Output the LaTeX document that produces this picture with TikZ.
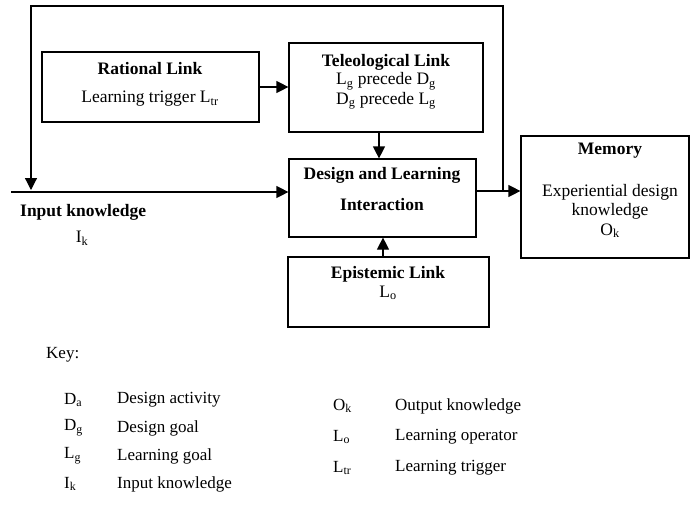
\documentclass[tikz,border=0pt]{standalone}
\usepackage{fontspec}
\setmainfont{Liberation Serif}
\usetikzlibrary{arrows.meta}
\begin{document}
\begin{tikzpicture}[x=1pt,y=-1pt,
  box/.style={draw, line width=1.2pt, inner sep=0pt},
  txt/.style={inner sep=0pt, font=\fontsize{17.5}{19.5}\selectfont, align=center},
  btxt/.style={inner sep=0pt, font=\fontsize{17.5}{19.5}\selectfont\bfseries, align=center},
  ktxt/.style={inner sep=0pt, anchor=west, font=\fontsize{17}{19}\selectfont},
  arr/.style={line width=1.2pt, -{Triangle[length=12pt,width=12pt]}}]
\fill[white] (0,0) rectangle (690,514);
\useasboundingbox (0,0) rectangle (690,514);
% boxes
\node[box, minimum width=217pt, minimum height=70pt] (rat) at (150.5,87) {};
\node[box, minimum width=194pt, minimum height=89pt] (tel) at (386,87.5) {};
\node[box, minimum width=187pt, minimum height=78pt] (dl) at (382.5,198) {};
\node[box, minimum width=168pt, minimum height=122pt] (mem) at (605,197) {};
\node[box, minimum width=201pt, minimum height=70pt] (epi) at (388.5,292) {};
% box texts
\node[btxt] (ratT) at (150,69) {Rational Link};
\node[txt] (ratS) at (150,99) {Learning trigger L\textsubscript{tr}};
\node[btxt] (telT) at (386,62) {Teleological Link};
\node[txt] (telS) at (386,91) {L\textsubscript{g} precede D\textsubscript{g}\\D\textsubscript{g} precede L\textsubscript{g}};
\node[btxt] (dlT) at (382,175) {Design and Learning};
\node[btxt] (dlS) at (382,205) {Interaction};
\node[btxt] (memT) at (610,151) {Memory};
\node[txt] (memS) at (610,211) {Experiential design\\knowledge\\O\textsubscript{k}};
\node[btxt] (epiT) at (388,274) {Epistemic Link};
\node[txt] (epiS) at (388,293) {L\textsubscript{o}};
\node[btxt, anchor=west] (inT) at (20,212) {Input knowledge};
\node[txt] (inS) at (82,238) {I\textsubscript{k}};
% connectors
\coordinate (tx) at (379,0);
\coordinate (ex) at (383,0);
\coordinate (inL) at (11,192);
\coordinate (outY) at (0,191);
\coordinate (fbR) at (503,191);
\coordinate (fbTR) at (503,6);
\coordinate (fbTL) at (31,6);
\coordinate (fbEnd) at (31,190);
\draw[arr] (rat.east) -- (tel.west |- rat.east);
\draw[arr] (tel.south -| tx) -- (dl.north -| tx);
\draw[arr] (epi.north -| ex) -- (dl.south -| ex);
\draw[arr] (inL) -- (inL -| dl.west);
\draw[arr] (dl.east |- outY) -- (mem.west |- outY);
\draw[arr] (fbR) -- (fbTR) -- (fbTL) -- (fbEnd);
% key
\node[ktxt] (key) at (46,355) {Key:};
\node[ktxt] (k1a) at (64,400) {D\textsubscript{a}};
\node[ktxt] (k1b) at (117,400) {Design activity};
\node[ktxt] (k2a) at (64,428) {D\textsubscript{g}};
\node[ktxt] (k2b) at (117,428) {Design goal};
\node[ktxt] (k3a) at (64,456) {L\textsubscript{g}};
\node[ktxt] (k3b) at (117,456) {Learning goal};
\node[ktxt] (k4a) at (64,484) {I\textsubscript{k}};
\node[ktxt] (k4b) at (117,484) {Input knowledge};
\node[ktxt] (k5a) at (333,406) {O\textsubscript{k}};
\node[ktxt] (k5b) at (395,406) {Output knowledge};
\node[ktxt] (k6a) at (333,437) {L\textsubscript{o}};
\node[ktxt] (k6b) at (395,437) {Learning operator};
\node[ktxt] (k7a) at (333,468) {L\textsubscript{tr}};
\node[ktxt] (k7b) at (395,468) {Learning trigger};
\end{tikzpicture}
\end{document}
